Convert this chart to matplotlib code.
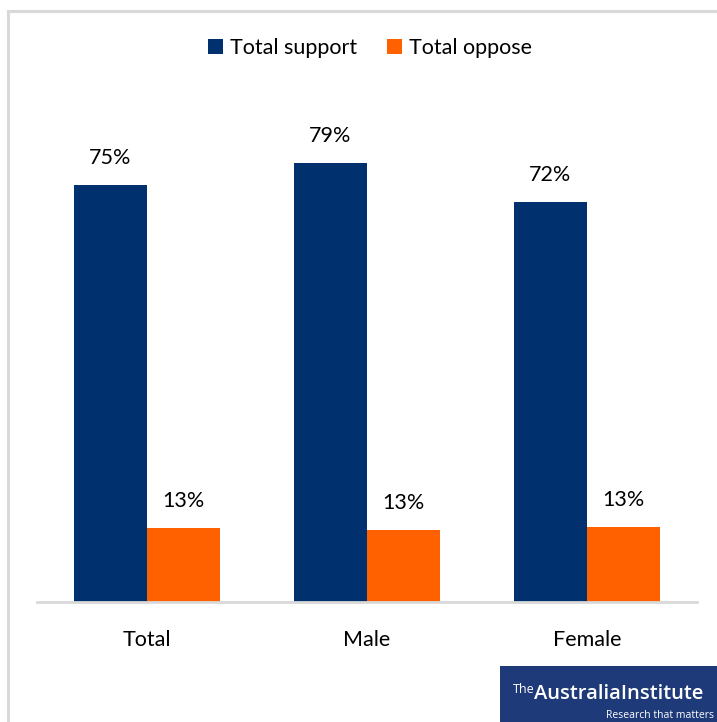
import matplotlib.pyplot as plt
import numpy as np
from matplotlib.patches import Rectangle
from matplotlib.lines import Line2D

categories = ['Total', 'Male', 'Female']
support = [75.0, 79.0, 72.0]
oppose = [13.3, 13.0, 13.5]
support_labels = ['75%', '79%', '72%']
oppose_labels = ['13%', '13%', '13%']

navy = '#00306E'
orange = '#FF6000'
grid = '#D9D9D9'

plt.rcParams['font.family'] = ['Lato', 'DejaVu Sans']

fig = plt.figure(figsize=(7.17, 7.22), dpi=100)
W, H = 717, 722

# outer chart border (light gray)
fig.add_artist(Line2D([7.5 / W, 7.5 / W], [0, 1 - 10.5 / H], color=grid, lw=2.2))
fig.add_artist(Line2D([7.5 / W, 1], [1 - 10.5 / H, 1 - 10.5 / H], color=grid, lw=2.2))

ax = fig.add_axes([37 / W, (H - 602) / H, 660 / W, 502 / H])
x = np.arange(len(categories))
bw = 0.332
b1 = ax.bar(x - bw / 2, support, bw, color=navy, label='Total support')
b2 = ax.bar(x + bw / 2, oppose, bw, color=orange, label='Total oppose')
ax.set_xlim(-0.5, 2.5)
ax.set_ylim(0, 502 / 5.56)

for rect, lab in zip(b1, support_labels):
    ax.annotate(lab, (rect.get_x() + rect.get_width() / 2, rect.get_height()),
                xytext=(0, 17), textcoords='offset pixels', ha='center', va='bottom',
                fontsize=15.5, color='black')
for rect, lab in zip(b2, oppose_labels):
    ax.annotate(lab, (rect.get_x() + rect.get_width() / 2, rect.get_height()),
                xytext=(0, 17), textcoords='offset pixels', ha='center', va='bottom',
                fontsize=15.5, color='black')

for s in ['top', 'right', 'left']:
    ax.spines[s].set_visible(False)
ax.spines['bottom'].set_color(grid)
ax.spines['bottom'].set_linewidth(2)
ax.set_yticks([])
ax.set_xticks(x)
ax.set_xticklabels(categories, fontsize=15.5)
ax.tick_params(axis='x', length=0, pad=20)

fig.legend(handles=[b1, b2], loc='center', bbox_to_anchor=(370 / W, 1 - 48 / H),
           ncol=2, frameon=False, fontsize=15.5, handlelength=0.7, handleheight=0.7,
           handletextpad=0.3, columnspacing=1.4)

# logo box
fig.add_artist(Rectangle((500 / W, 0), 217 / W, 56 / H, transform=fig.transFigure,
                         facecolor='#1E3A78', edgecolor='none'))
fig.text(513 / W, 1 - 693 / H, 'The', color='white', fontsize=9, va='baseline',
         family=['Open Sans', 'DejaVu Sans'])
fig.text(534 / W, 1 - 699 / H, 'AustraliaInstitute', color='white', fontsize=14.5,
         va='baseline', weight='semibold', family=['Open Sans', 'DejaVu Sans'])
fig.text(714 / W, 1 - 718 / H, 'Research that matters', color='white', fontsize=7.5,
         va='baseline', ha='right', family=['Open Sans', 'DejaVu Sans'])

fig.savefig('out.png', dpi=100)
